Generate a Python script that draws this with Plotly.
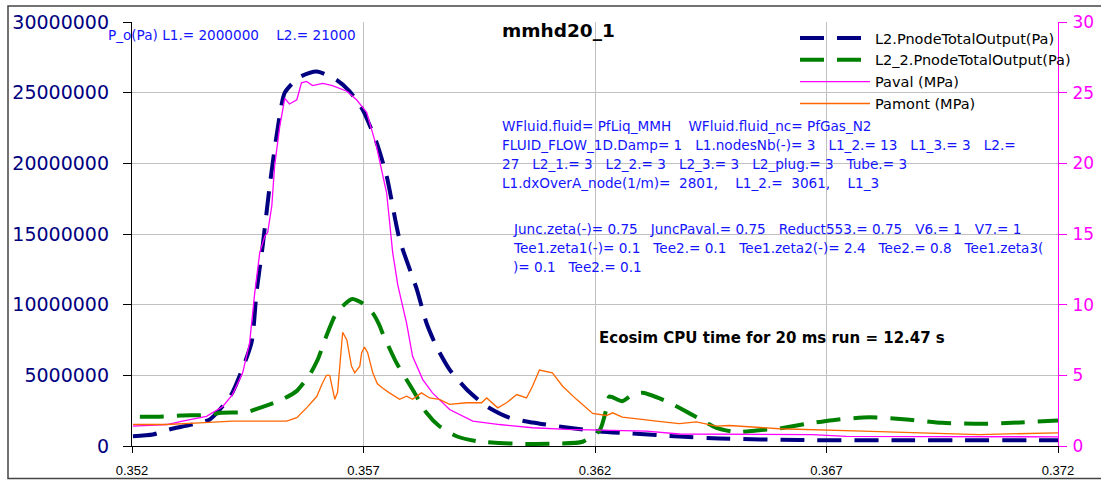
import plotly.graph_objects as go

# ---------------- data (time in s) ----------------
t_l2 = [0.35202, 0.35245, 0.35281, 0.35368, 0.35396, 0.35417, 0.35458, 0.35469, 0.35482,
        0.35497, 0.35512, 0.35530, 0.35562, 0.35599, 0.35642, 0.35670, 0.35698, 0.35728,
        0.35750, 0.35778, 0.35815, 0.35836, 0.35858, 0.35886, 0.35923, 0.35966, 0.36015,
        0.36065, 0.36139, 0.36210, 0.36281, 0.36382, 0.36469, 0.36642, 0.36857, 0.37200]
p_l2 = [0.69e6, 0.81e6, 1.17e6, 1.88e6, 2.82e6, 3.79e6, 7.3e6, 10.9e6, 14.1e6,
        18.3e6, 21.9e6, 25.0e6, 26.1e6, 26.5e6, 25.9e6, 25.1e6, 23.8e6, 21.5e6,
        19.1e6, 14.6e6, 11.1e6, 8.7e6, 7.0e6, 5.4e6, 4.0e6, 2.8e6, 2.0e6,
        1.66e6, 1.31e6, 1.03e6, 0.88e6, 0.67e6, 0.53e6, 0.42e6, 0.40e6, 0.40e6]

t_l2_2 = [0.35217, 0.35253, 0.35307, 0.35361, 0.35394, 0.35448, 0.35476, 0.35525, 0.35556,
          0.35584, 0.35601, 0.35620, 0.35638, 0.35655, 0.35676, 0.35698, 0.35720, 0.35735,
          0.35741, 0.35771, 0.35806, 0.35836, 0.35864, 0.35901, 0.35944, 0.36031, 0.36108,
          0.36173, 0.36210, 0.36225, 0.36231, 0.36259, 0.36281, 0.36303, 0.36354, 0.36382,
          0.36426, 0.36462, 0.36506, 0.36549, 0.36598, 0.36670, 0.36713, 0.36793, 0.36873,
          0.36950, 0.37037, 0.37101, 0.37200]
p_l2_2 = [2.07e6, 2.07e6, 2.16e6, 2.2e6, 2.35e6, 2.4e6, 2.7e6, 3.3e6, 3.9e6,
          5.06e6, 6.1e6, 7.8e6, 9.2e6, 9.9e6, 10.4e6, 10.1e6, 9.4e6, 8.5e6,
          8.0e6, 5.9e6, 4.0e6, 2.35e6, 1.4e6, 0.69e6, 0.34e6, 0.16e6, 0.16e6,
          0.3e6, 1.1e6, 2.7e6, 3.5e6, 3.17e6, 3.64e6, 3.77e6, 3.17e6, 2.7e6,
          1.92e6, 1.29e6, 0.98e6, 1.1e6, 1.24e6, 1.64e6, 1.83e6, 2.04e6, 1.88e6,
          1.64e6, 1.57e6, 1.64e6, 1.8e6]

t_paval = [0.35202, 0.35275, 0.35309, 0.35361, 0.35396, 0.35417, 0.35439, 0.35454, 0.35465,
           0.35476, 0.35487, 0.35493, 0.35502, 0.35508, 0.35519, 0.35530, 0.35540, 0.35556,
           0.35566, 0.35577, 0.35590, 0.35612, 0.35633, 0.35664, 0.35685, 0.35707, 0.35728,
           0.35750, 0.35763, 0.35774, 0.35793, 0.35806, 0.35828, 0.35849, 0.35886, 0.35936,
           0.35994, 0.36065, 0.36139, 0.36281, 0.36311, 0.36382, 0.36670, 0.36743, 0.37200]
p_paval = [1.40, 1.52, 1.76, 2.1, 2.8, 3.64, 5.18, 7.3, 10.8,
           13.7, 14.85, 15.1, 17.0, 19.8, 22.6, 24.6, 24.2, 24.5,
           25.7, 25.8, 25.5, 25.65, 25.5, 25.1, 24.5, 23.6, 21.2,
           17.9, 13.7, 11.4, 8.7, 6.35, 4.7, 3.76, 2.58, 1.76,
           1.52, 1.29, 1.17, 1.05, 1.05, 0.85, 0.81, 0.68, 0.65]

t_pamont = [0.35202, 0.35275, 0.35346, 0.35417, 0.35534, 0.35556, 0.35577, 0.35599, 0.35610,
            0.35620, 0.35627, 0.35638, 0.35644, 0.35655, 0.35664, 0.35674, 0.35681, 0.35692,
            0.35696, 0.35702, 0.35709, 0.35720, 0.35730, 0.35741, 0.35756, 0.35778, 0.35793,
            0.35806, 0.35825, 0.35843, 0.35864, 0.35886, 0.35923, 0.35955, 0.35966, 0.35990,
            0.36009, 0.36031, 0.36052, 0.36065, 0.36080, 0.36108, 0.36130, 0.36160, 0.36195,
            0.36225, 0.36238, 0.36259, 0.36333, 0.36382, 0.36419, 0.36462, 0.36490, 0.36598,
            0.36778, 0.36886, 0.37030, 0.37200]
p_pamont = [1.52, 1.52, 1.64, 1.76, 1.76, 2.0, 2.7, 3.5, 4.35,
            5.0, 5.0, 3.3, 3.8, 8.05, 7.5, 5.65, 5.18, 5.65,
            6.6, 7.0, 6.6, 5.18, 4.4, 4.1, 3.76, 3.3, 3.52,
            3.3, 3.76, 3.4, 3.3, 2.94, 3.06, 3.06, 3.4, 2.7,
            3.06, 3.64, 3.4, 4.23, 5.37, 5.18, 4.23, 3.3, 2.3,
            2.16, 2.35, 2.04, 1.76, 1.59, 1.71, 1.40, 1.45, 1.22,
            1.05, 0.93, 0.81, 0.93]

x_ticks = [0.352, 0.357, 0.362, 0.367, 0.372]
x_ticklabels = ["0.352", "0.357", "0.362", "0.367", "0.372"]

series_names = ["L2.PnodeTotalOutput(Pa)", "L2_2.PnodeTotalOutput(Pa)", "Paval (MPa)", "Pamont (MPa)"]

title_text = "mmhd20_1"
param_text = "P_o(Pa) L1.= 2000000    L2.= 21000"
block1 = ["WFluid.fluid= PfLiq_MMH    WFluid.fluid_nc= PfGas_N2",
          "FLUID_FLOW_1D.Damp= 1   L1.nodesNb(-)= 3   L1_2.= 13   L1_3.= 3   L2.=",
          "27   L2_1.= 3   L2_2.= 3   L2_3.= 3   L2_plug.= 3   Tube.= 3",
          "L1.dxOverA_node(1/m)=  2801,    L1_2.=  3061,    L1_3"]
block2 = ["Junc.zeta(-)= 0.75   JuncPaval.= 0.75   Reduct553.= 0.75   V6.= 1   V7.= 1",
          "Tee1.zeta1(-)= 0.1   Tee2.= 0.1   Tee1.zeta2(-)= 2.4   Tee2.= 0.8   Tee1.zeta3(",
          ")= 0.1   Tee2.= 0.1"]
ecosim_text = "Ecosim CPU time for 20 ms run = 12.47 s"

# ---------------- figure ----------------
W, H = 1101, 480
ML, MR, MT, MB = 132, 43, 22, 34
PW, PH = W - ML - MR, H - MT - MB


def xp(px):
    return (px - ML) / PW


def yp(py):
    return (H - MB - py) / PH


NAVY = "#000080"
GREEN = "#008000"
MAG = "#FF00FF"
ORANGE = "#FF6600"
BLUE = "#1414FF"

fig = go.Figure()
fig.add_trace(go.Scatter(x=t_l2, y=p_l2, name=series_names[0], mode="lines",
                         line=dict(color=NAVY, width=4, dash="24px,13px", shape="spline", smoothing=0.6)))
fig.add_trace(go.Scatter(x=t_l2_2, y=p_l2_2, name=series_names[1], mode="lines",
                         line=dict(color=GREEN, width=4, dash="24px,13px", shape="spline", smoothing=0.6)))
fig.add_trace(go.Scatter(x=t_paval, y=p_paval, name=series_names[2], mode="lines", yaxis="y2",
                         line=dict(color=MAG, width=1.3)))
fig.add_trace(go.Scatter(x=t_pamont, y=p_pamont, name=series_names[3], mode="lines", yaxis="y2",
                         line=dict(color=ORANGE, width=1.3)))


def nb(s):
    return s.replace(" ", "\u00a0")


ann = []
ann.append(dict(text=nb(param_text), x=xp(106), y=yp(35), xanchor="left", yanchor="middle",
                font=dict(family="DejaVu Sans", size=13.6, color=BLUE)))
ann.append(dict(text="<b>" + title_text + "</b>", x=xp(500), y=yp(30), xanchor="left", yanchor="middle",
                font=dict(family="DejaVu Sans", size=18.5, color="black")))
for i, line in enumerate(block1):
    ann.append(dict(text=nb(line), x=xp(500), y=yp(126 + 19 * i), xanchor="left", yanchor="middle",
                    font=dict(family="DejaVu Sans", size=13.6, color=BLUE)))
for i, line in enumerate(block2):
    ann.append(dict(text=nb(line), x=xp(511), y=yp(229 + 19 * i), xanchor="left", yanchor="middle",
                    font=dict(family="DejaVu Sans", size=13.6, color=BLUE)))
ann.append(dict(text="<b>" + nb(ecosim_text) + "</b>", x=xp(597), y=yp(338), xanchor="left", yanchor="middle",
                font=dict(family="DejaVu Sans", size=15, color="black")))
for a in ann:
    a.update(xref="paper", yref="paper", showarrow=False)

fig.update_layout(
    width=W, height=H,
    margin=dict(l=ML, r=MR, t=MT, b=MB, pad=0, autoexpand=False),
    paper_bgcolor="white", plot_bgcolor="white",
    showlegend=True,
    legend=dict(x=xp(795), y=1.0, xanchor="left", yanchor="top", bgcolor="rgba(255,255,255,0)",
                font=dict(family="DejaVu Sans", size=14.5, color="black"),
                itemwidth=70, tracegroupgap=0, borderwidth=0),
    xaxis=dict(range=[0.352, 0.372], tickmode="array", tickvals=x_ticks, ticktext=x_ticklabels,
               showgrid=True, gridcolor="#C0C0C0", gridwidth=1.3, zeroline=False,
               showline=True, linecolor="black", linewidth=1.3,
               ticks="outside", ticklen=6, tickcolor="black", ticklabelstandoff=6,
               tickfont=dict(family="Liberation Sans", size=13, color="black")),
    yaxis=dict(range=[0, 30000000], dtick=5000000, tickformat="d",
               showgrid=True, gridcolor="#C0C0C0", gridwidth=1.3, zeroline=False,
               showline=True, linecolor="black", linewidth=1.3,
               ticks="outside", ticklen=8, tickcolor="black", ticklabelstandoff=10,
               tickfont=dict(family="DejaVu Sans", size=19, color=NAVY)),
    yaxis2=dict(range=[0, 30], dtick=5, overlaying="y", side="right",
                showgrid=False, zeroline=False,
                showline=True, linecolor=MAG, linewidth=1.3,
                ticks="outside", ticklen=8, tickcolor=MAG, ticklabelstandoff=2,
                tickfont=dict(family="DejaVu Sans", size=17, color=MAG)),
    annotations=ann,
    shapes=[dict(type="rect", xref="paper", yref="paper",
                 x0=xp(8), x1=xp(1120), y0=yp(478.5), y1=yp(6),
                 line=dict(color="#444444", width=1.5), fillcolor="rgba(0,0,0,0)", layer="below")],
)

fig.write_html("out.html")
